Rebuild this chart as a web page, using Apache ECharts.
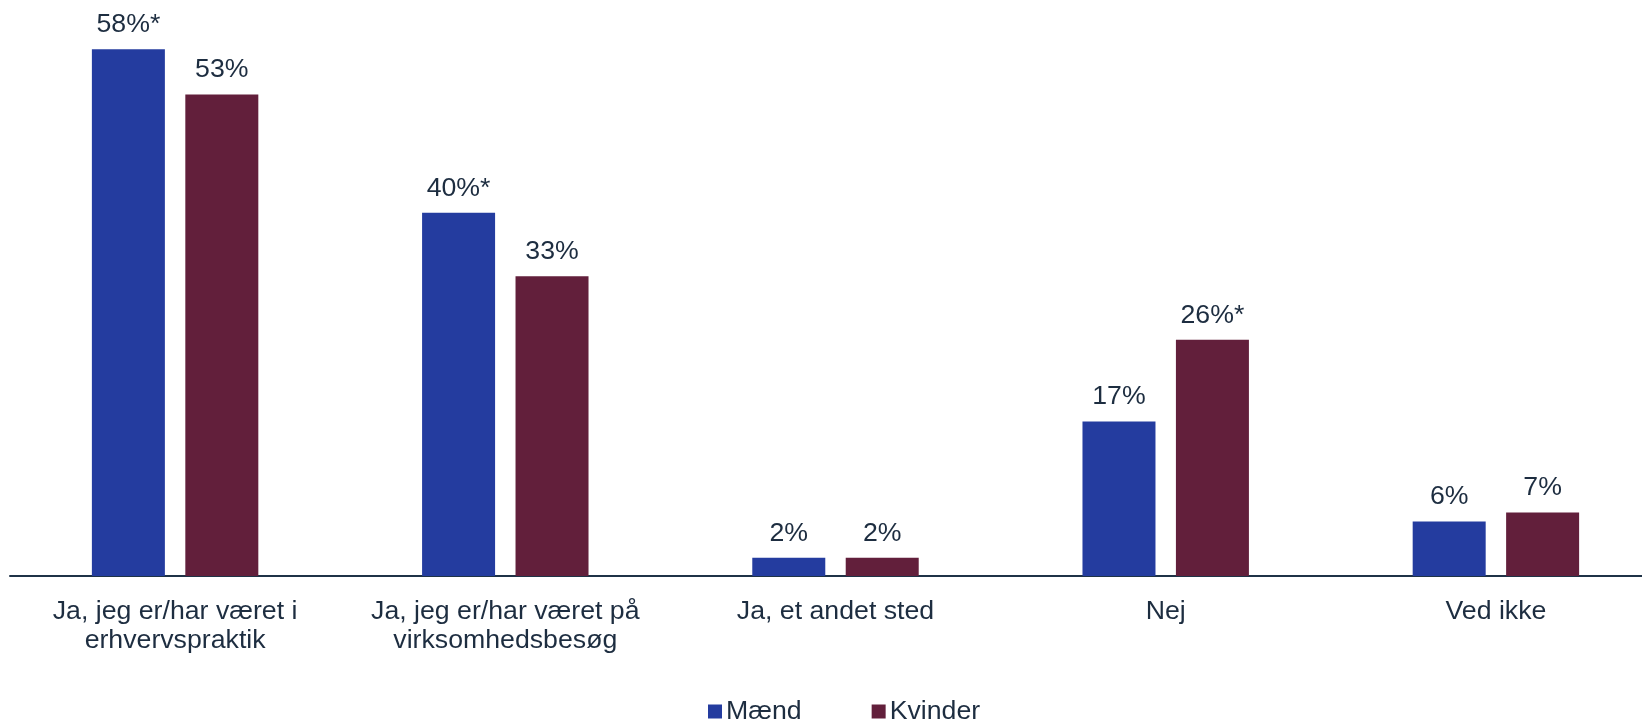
<!DOCTYPE html>
<html>
<head>
<meta charset="utf-8">
<script src="https://cdn.jsdelivr.net/npm/echarts@6/dist/echarts.min.js"></script>
<style>
  html, body { margin: 0; padding: 0; background: #fff; }
  #main { width: 1642px; height: 721px; }
</style>
</head>
<body>
<div id="main"></div>
<script>
var categories = [
  "Ja, jeg er/har været i\nerhvervspraktik",
  "Ja, jeg er/har været på\nvirksomhedsbesøg",
  "Ja, et andet sted",
  "Nej",
  "Ved ikke"
];
var maend = [58, 40, 2, 17, 6];
var kvinder = [53, 33, 2, 26, 7];
// asterisk = significant difference
var maendSig = [true, true, false, false, false];
var kvinderSig = [false, false, false, true, false];

var textColor = "#1d2d40";
var myChart = echarts.init(document.getElementById("main"));

function labelFor(sig) {
  return {
    show: true,
    position: "top",
    distance: 11,
    color: textColor,
    fontFamily: "Liberation Sans, Arial, sans-serif",
    fontSize: 26.7,
    formatter: function (p) {
      return p.value + "%" + (sig[p.dataIndex] ? "*" : "");
    }
  };
}

var option = {
  animation: false,
  grid: {
    left: 10,
    top: 31,
    bottom: 145,
    width: 1651,
    outerBoundsMode: "none",
    containLabel: false
  },
  legend: {
    data: ["Mænd", "Kvinder"],
    left: 703,
    top: 693,
    itemWidth: 14,
    itemHeight: 14,
    itemGap: 70,
    icon: "rect",
    textStyle: {
      color: textColor,
      fontFamily: "Liberation Sans, Arial, sans-serif",
      fontSize: 26.7,
      padding: [0, 0, 0, -1]
    }
  },
  xAxis: {
    type: "category",
    data: categories,
    axisTick: { show: false },
    axisLine: { lineStyle: { color: "#1f3347", width: 2 } },
    axisLabel: {
      interval: 0,
      margin: 21,
      color: textColor,
      fontFamily: "Liberation Sans, Arial, sans-serif",
      fontSize: 26.7,
      lineHeight: 29
    }
  },
  yAxis: {
    type: "value",
    min: 0,
    max: 60,
    show: false,
    splitLine: { show: false }
  },
  series: [
    {
      name: "Mænd",
      type: "bar",
      data: maend,
      barWidth: 73,
      barGap: "28%",
      itemStyle: { color: "#243c9f" },
      label: labelFor(maendSig)
    },
    {
      name: "Kvinder",
      type: "bar",
      data: kvinder,
      barWidth: 73,
      barGap: "28%",
      itemStyle: { color: "#621f3b" },
      label: labelFor(kvinderSig)
    }
  ]
};
myChart.setOption(option);
</script>
</body>
</html>
